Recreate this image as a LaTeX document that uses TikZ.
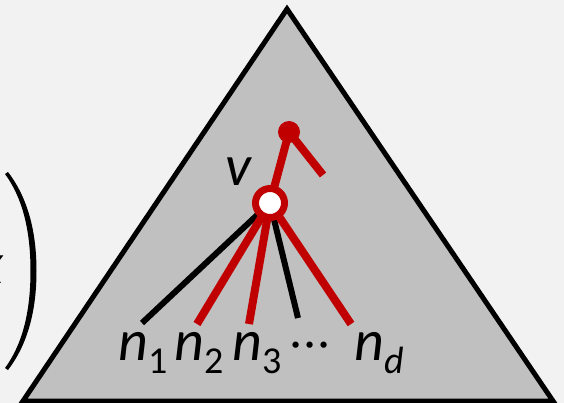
\documentclass[tikz,border=0pt]{standalone}
\usepackage{fontspec}
\setmainfont{Carlito}
\definecolor{bggray}{HTML}{F2F2F2}
\definecolor{trigray}{HTML}{C0C0C0}
\definecolor{darkred}{HTML}{C00000}
\newcommand\nsub[1]{\raisebox{-13pt}{\fontsize{38}{40}\selectfont\upshape #1}}

\begin{document}
\begin{tikzpicture}[x=1pt,y=-1pt,
  lbl/.style={anchor=base west,inner sep=0pt,font=\fontsize{58}{60}\selectfont\itshape},
  redline/.style={draw=darkred,line width=8},
  blackline/.style={draw=black,line width=6}]
  \fill[bggray] (0,0) rectangle (564,403);
  \useasboundingbox (0,0) rectangle (564,403);
  % left bracket and cut-off term
  \node[lbl,anchor=base east] (xl) at (4,283) {x};
  \fill (8,172) .. controls (28,198) and (36.5,232) .. (36.5,271)
    .. controls (36.5,310) and (28,344) .. (8,370) -- (5,368)
    .. controls (24,342) and (30.5,308) .. (30.5,271)
    .. controls (30.5,234) and (24,200) .. (5,174) -- cycle;
  % the tree
  \draw[line width=5,fill=trigray,line join=miter] (287,9) -- (553,401) -- (23,401) -- cycle;
  \coordinate (v) at (270,203);
  \coordinate (p) at (289,132);
  \coordinate (pend) at (323,175);
  \coordinate (e1) at (142,323);
  \coordinate (e2) at (197,324);
  \coordinate (e3) at (249,324);
  \coordinate (e4) at (298,318);
  \coordinate (e5) at (351,324);
  \draw[redline] (v) -- (p);
  \draw[redline] (p) -- (pend);
  \draw[blackline] (v) -- (e1);
  \draw[blackline] (v) -- (e4);
  \draw[redline] (v) -- (e2);
  \draw[redline] (v) -- (e3);
  \draw[redline] (v) -- (e5);
  \node[circle,fill=darkred,minimum size=22,inner sep=0pt] (pn) at (p) {};
  \node[circle,draw=darkred,line width=7,fill=white,minimum size=29,inner sep=0pt] (vn) at (v) {};
  \node[lbl] (vl) at (225,186) {v};
  % children
  \node[lbl] (n1) at (118,360) {n\nsub{1}};
  \node[lbl] (n2) at (174,360) {n\nsub{2}};
  \node[lbl] (n3) at (232,360) {n\nsub{3}};
  \node[lbl,font=\fontsize{44}{46}\selectfont] (dots) at (290,357) {\textperiodcentered\kern3pt\textperiodcentered\kern3pt\textperiodcentered};
  \node[lbl] (nd) at (354,360) {n\nsub{\itshape d}};
\end{tikzpicture}
\end{document}
